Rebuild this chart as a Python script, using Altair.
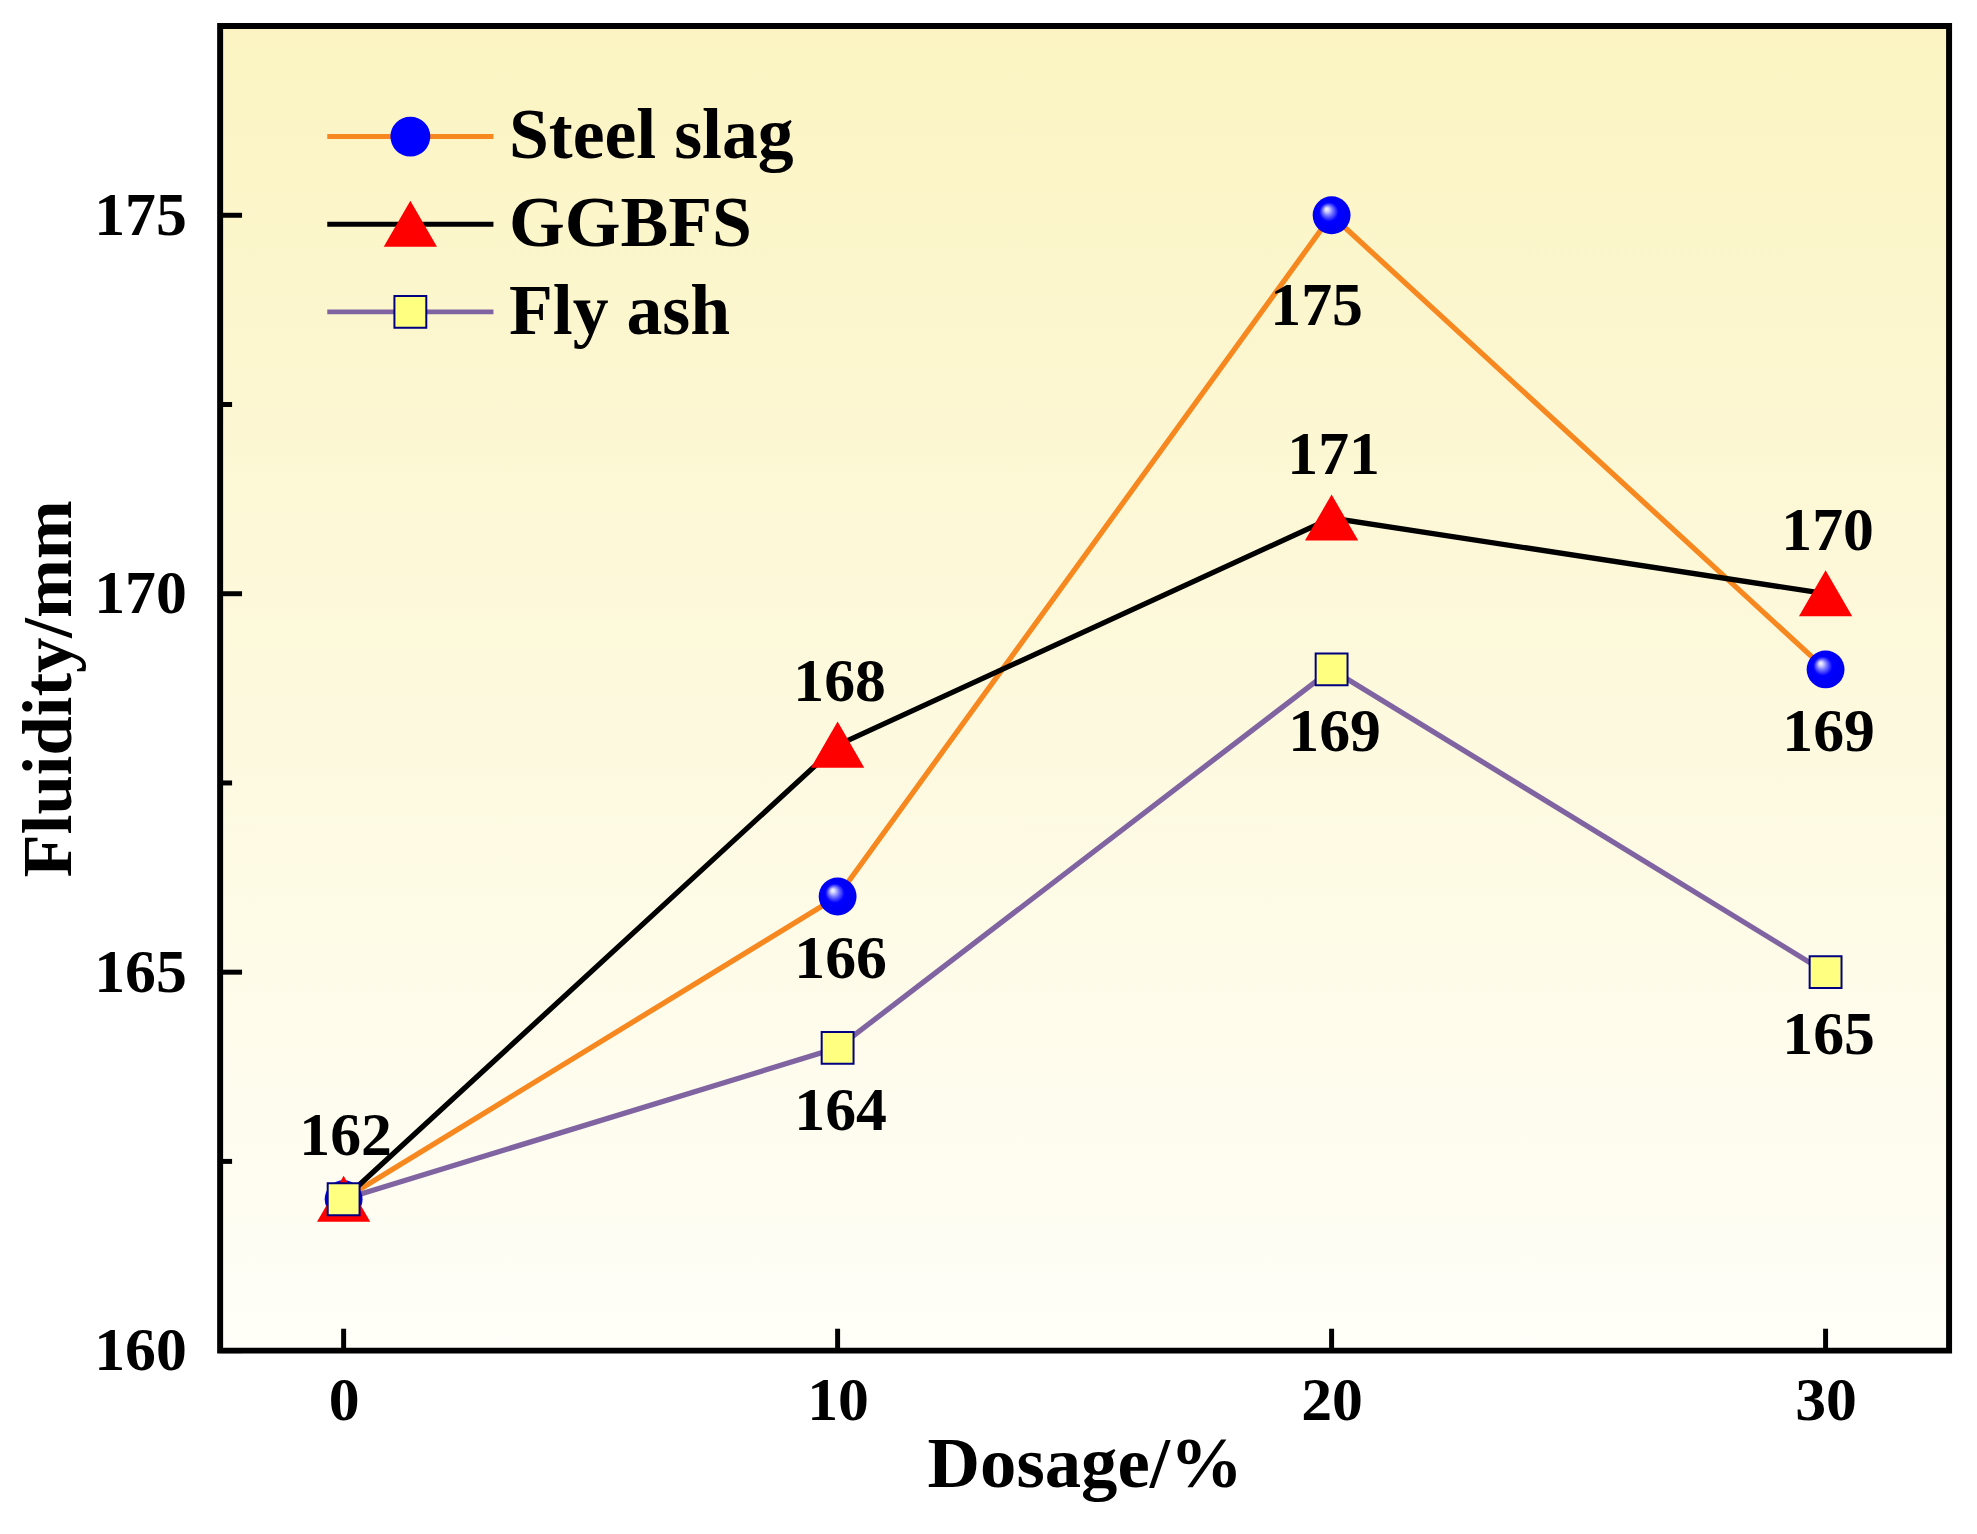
import altair as alt
import pandas as pd

# ---------------- data ----------------
dosage = [0, 10, 20, 30]
steel_slag = [162, 166, 175, 169]
ggbfs = [162, 168, 171, 170]
fly_ash = [162, 164, 169, 165]

series_names = ["Steel slag", "GGBFS", "Fly ash"]
series_keys = ["k1", "k2", "k3"]
line_colors = ["#F7881F", "#000000", "#8064A2"]
marker_shapes = ["circle", "triangle-up", "square"]
marker_fills = ["#0000FF", "#FF0000", "#FFFF80"]
marker_strokes = ["#0000FF", "#FF0000", "#000080"]
marker_sizes = [1444, 2500, 1024]

label_x = [0, 10, 10, 10, 20, 20, 20, 30, 30, 30]
label_v = [162, 166, 168, 164, 175, 171, 169, 169, 170, 165]
label_pos = ["above", "below", "above", "below", "below_left",
             "above", "below", "below", "above", "below"]

y_major = [160, 165, 170, 175]
y_minor = [162.5, 167.5, 172.5]
x_major = [0, 10, 20, 30]

# ---------------- tables ----------------
rows = []
for name, key, vals in zip(series_names, series_keys, [steel_slag, ggbfs, fly_ash]):
    for d, v in zip(dosage, vals):
        rows.append({"Dosage": d, "Fluidity": v, "series": name, "key": key})
df = pd.DataFrame(rows)
df_lab = pd.DataFrame({"Dosage": label_x, "Fluidity": label_v, "pos": label_pos})
one = pd.DataFrame({"a": [0]})

W, H = 1736, 1330
FONT = "Liberation Serif"

xs = alt.Scale(domain=[-2.5, 32.5], nice=False, zero=False)
ys = alt.Scale(domain=[160, 177.5], nice=False, zero=False)

# background gradient
bg = alt.Chart(one).mark_rect(
    color=alt.LinearGradient(
        gradient="linear", x1=0, y1=0, x2=0, y2=1,
        stops=[alt.GradientStop(offset=0, color="#FBF4C2"),
               alt.GradientStop(offset=1, color="#FFFEF8")])
).encode(x=alt.value(0), x2=alt.value("width"), y=alt.value(0), y2=alt.value("height"))

LX, LY = 155, 75

lines = alt.Chart(df).mark_line(strokeWidth=5.3).encode(
    x=alt.X("Dosage:Q", scale=xs, axis=alt.Axis(
        values=x_major, title="Dosage/%", domain=False, ticks=False, tickSize=0, grid=False,
        labelFont=FONT, labelFontSize=62, labelFontWeight="bold", labelColor="black",
        labelBaseline="alphabetic", labelPadding=69, labelFlush=False, format="d",
        titleFont=FONT, titleFontSize=73, titleFontWeight="bold", titleColor="black",
        titleX=W / 2, titleY=136, titleBaseline="alphabetic", titleAlign="center")),
    y=alt.Y("Fluidity:Q", scale=ys, axis=alt.Axis(
        values=y_major, title="Fluidity/mm", domain=False, ticks=False, tickSize=0, grid=False,
        labelFont=FONT, labelFontSize=62, labelFontWeight="bold", labelColor="black",
        labelPadding=34, labelFlush=False, format="d",
        titleFont=FONT, titleFontSize=71, titleFontWeight="bold", titleColor="black",
        titleX=-150, titleY=H / 2, titleBaseline="alphabetic", titleAlign="center", titleAngle=270)),
    color=alt.Color("series:N", scale=alt.Scale(domain=series_names, range=line_colors),
                    legend=alt.Legend(
                        orient="none", legendX=LX, legendY=LY, title=None, padding=0,
                        symbolType="M-3.55,0H3.55", symbolSize=2209, symbolStrokeWidth=5,
                        labelFont=FONT, labelFontSize=72, labelFontWeight="bold",
                        labelColor="black", labelOffset=63, rowPadding=16,
                        labelLimit=0)),
)

sphere = alt.Chart(df).transform_filter(alt.datum.key == "k1").mark_point(
    shape="circle", filled=True, size=1444, opacity=1, strokeWidth=0,
    fill=alt.RadialGradient(
        gradient="radial", x1=0.36, y1=0.33, r1=0, x2=0.5, y2=0.5, r2=0.5,
        stops=[alt.GradientStop(offset=0, color="#FFFFFF"),
               alt.GradientStop(offset=0.12, color="#D0D0FF"),
               alt.GradientStop(offset=0.28, color="#7070FF"),
               alt.GradientStop(offset=0.5, color="#0000FF"),
               alt.GradientStop(offset=1, color="#0000F0")])
).encode(x=alt.X("Dosage:Q", scale=xs), y=alt.Y("Fluidity:Q", scale=ys))

mk_legend = alt.Legend(
    orient="none", legendX=LX, legendY=LY, title=None, padding=0,
    symbolStrokeWidth=2,
    labelFont=FONT, labelFontSize=72, labelFontWeight="bold",
    labelExpr="''", labelOffset=63, rowPadding=16)

markers = alt.Chart(df).transform_filter(alt.datum.key != "k1").mark_point(
    filled=True, opacity=1, strokeWidth=2
).encode(
    x=alt.X("Dosage:Q", scale=xs),
    y=alt.Y("Fluidity:Q", scale=ys),
    shape=alt.Shape("key:N", scale=alt.Scale(domain=series_keys, range=marker_shapes), legend=mk_legend),
    fill=alt.Fill("key:N", scale=alt.Scale(domain=series_keys, range=marker_fills), legend=mk_legend),
    stroke=alt.Stroke("key:N", scale=alt.Scale(domain=series_keys, range=marker_strokes), legend=mk_legend),
    size=alt.Size("key:N", scale=alt.Scale(type="ordinal", domain=series_keys, range=marker_sizes),
                  legend=mk_legend),
)

def labels(pos, dx, dy):
    return alt.Chart(df_lab).transform_filter(alt.datum.pos == pos).mark_text(
        font=FONT, fontSize=62, fontWeight="bold", color="black",
        baseline="middle", align="center", dx=dx, dy=dy
    ).encode(x=alt.X("Dosage:Q", scale=xs),
             y=alt.Y("Fluidity:Q", scale=ys),
             text=alt.Text("Fluidity:Q", format="d"))

lab_above = labels("above", 2, -63)
lab_below = labels("below", 3, 63)
lab_bl = labels("below_left", -15, 91)

frame = alt.Chart(one).mark_rect(fillOpacity=0, stroke="black", strokeWidth=6).encode(
    x=alt.value(0), x2=alt.value("width"), y=alt.value(0), y2=alt.value("height"))

ytick = alt.Chart(pd.DataFrame({"v": y_major})).mark_rule(color="black", strokeWidth=5).encode(
    y=alt.Y("v:Q", scale=ys), x=alt.value(0), x2=alt.value(22))
ymin = alt.Chart(pd.DataFrame({"v": y_minor})).mark_rule(color="black", strokeWidth=5).encode(
    y=alt.Y("v:Q", scale=ys), x=alt.value(0), x2=alt.value(12))
xtick = alt.Chart(pd.DataFrame({"v": x_major})).mark_rule(color="black", strokeWidth=5).encode(
    x=alt.X("v:Q", scale=xs), y=alt.value(H), y2=alt.value(H - 22))

chart = alt.layer(
    bg, lines, sphere, markers, lab_above, lab_below, lab_bl, frame, ytick, ymin, xtick
).properties(
    width=W, height=H,
    padding={"left": 213, "top": 15, "right": 20, "bottom": 181},
    autosize=alt.AutoSizeParams(type="none"),
).configure(background="white").configure_view(strokeWidth=0)

chart.save("out.html", embed_options={"renderer": "svg", "actions": False})
